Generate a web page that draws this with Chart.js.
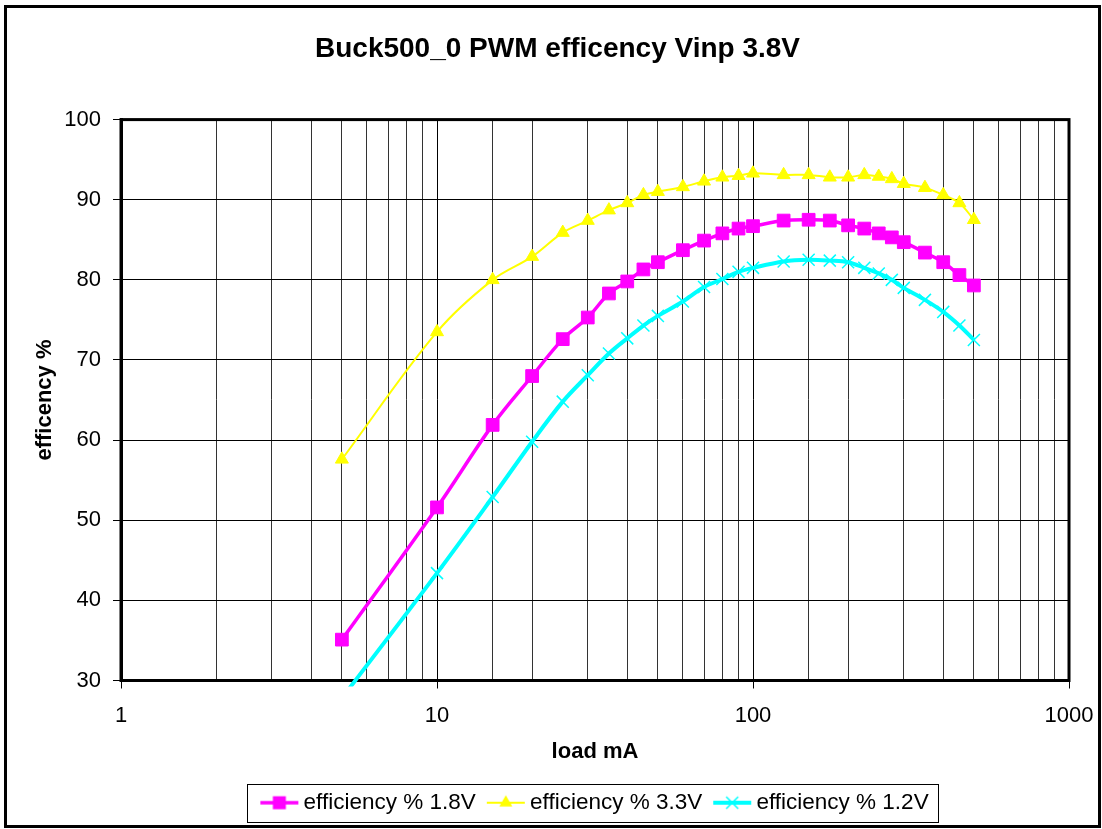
<!DOCTYPE html>
<html>
<head>
<meta charset="utf-8">
<script src="https://cdn.jsdelivr.net/npm/chart.js@4.4.1/dist/chart.umd.min.js"></script>
<style>
  html, body { margin: 0; padding: 0; background: #fff; }
  #wrap { position: relative; width: 1102px; height: 829px; }
</style>
</head>
<body>
<div id="wrap"><canvas id="chart"></canvas></div>
<script>
// load in mA
var loadMA = [5, 10, 15, 20, 25, 30, 35, 40, 45, 50, 60, 70, 80, 90, 100, 125, 150, 175, 200, 225, 250, 275, 300, 350, 400, 450, 500];

// efficiency % per output voltage
var eff18 = [35.1, 51.6, 61.9, 68.0, 72.6, 75.3, 78.3, 79.8, 81.3, 82.2, 83.7, 84.9, 85.8, 86.4, 86.7, 87.4, 87.5, 87.4, 86.8, 86.4, 85.8, 85.3, 84.7, 83.4, 82.2, 80.6, 79.3];
var eff33 = [57.6, 73.5, 80.0, 82.9, 85.9, 87.4, 88.7, 89.6, 90.6, 91.0, 91.6, 92.3, 92.8, 93.0, 93.3, 93.1, 93.1, 92.8, 92.8, 93.1, 92.9, 92.6, 92.0, 91.5, 90.6, 89.6, 87.5];
var eff12 = [27.8, 43.4, 52.9, 59.8, 64.8, 68.1, 70.8, 72.7, 74.3, 75.5, 77.3, 79.1, 80.1, 81.0, 81.5, 82.3, 82.5, 82.4, 82.2, 81.5, 80.8, 80.0, 79.0, 77.5, 76.0, 74.3, 72.5];

var seriesNames = ['efficiency % 1.8V', 'efficiency % 3.3V', 'efficiency % 1.2V'];
var xTickLabels = [1, 10, 100, 1000];
var yTicks = [30, 40, 50, 60, 70, 80, 90, 100];

var FONT = '"Liberation Sans", Arial, sans-serif';

function points(ys) {
    var out = [];
    for (var i = 0; i < loadMA.length; i++) {
        out.push({x: loadMA[i], y: ys[i]});
    }
    return out;
}

function isDecade(v) {
    return xTickLabels.indexOf(v) !== -1;
}

// legend icons: a short line with the marker on it
function makeIcon(color, lineW, kind) {
    var c = document.createElement('canvas');
    c.width = 45;
    c.height = 20;
    var g = c.getContext('2d');
    g.strokeStyle = color;
    g.fillStyle = color;
    g.lineWidth = lineW;
    g.beginPath();
    g.moveTo(6, 10);
    g.lineTo(44, 10);
    g.stroke();
    var cx = 25, cy = 10;
    if (kind === 'rect') {
        g.fillRect(cx - 6.5, cy - 6.5, 13, 13);
    } else if (kind === 'triangle') {
        var r = 7.5;
        g.beginPath();
        g.moveTo(cx, cy - r);
        g.lineTo(cx + r * 0.866, cy + r / 2);
        g.lineTo(cx - r * 0.866, cy + r / 2);
        g.closePath();
        g.fill();
    } else {
        g.lineWidth = 1.5;
        g.beginPath();
        g.moveTo(cx - 6, cy - 6); g.lineTo(cx + 6, cy + 6);
        g.moveTo(cx + 6, cy - 6); g.lineTo(cx - 6, cy + 6);
        g.stroke();
    }
    return c;
}

var icons = [
    makeIcon('#FF00FF', 3.5, 'rect'),
    makeIcon('#FFFF00', 2, 'triangle'),
    makeIcon('#00FFFF', 4, 'cross')
];

var framePlugin = {
    id: 'frame',
    afterLayout: function(chart) {
        // centre the legend under the plot area, nudge the title like the original
        var lg = chart.legend;
        var ca = chart.chartArea;
        var shift = (ca.left + ca.right) / 2 - (lg.left + lg.right) / 2;
        lg.left += shift;
        lg.right += shift;
        var tb = chart.titleBlock;
        if (tb) {
            tb.left += 18;
            tb.right += 18;
        }
    },
    beforeDraw: function(chart) {
        var ctx = chart.ctx;
        ctx.save();
        ctx.fillStyle = '#fff';
        ctx.fillRect(0, 0, chart.width, chart.height);
        ctx.strokeStyle = '#000';
        ctx.lineWidth = 3;
        ctx.strokeRect(5.5, 6.5, 1094, 820);
        ctx.restore();
    },
    beforeDatasetsDraw: function(chart) {
        var ca = chart.chartArea;
        var ctx = chart.ctx;
        ctx.save();
        ctx.strokeStyle = '#000';
        ctx.lineWidth = 3;
        ctx.strokeRect(ca.left, ca.top, ca.right - ca.left, ca.bottom - ca.top);
        ctx.restore();
    },
    afterDraw: function(chart) {
        var lg = chart.legend;
        var pad = lg.options.labels.padding;
        var lw = lg.lineWidths[0];
        var startX = (lg.left + pad + lg.right - lw) / 2;
        var x0 = startX + 15.5 - 22.5 - 7;
        var x1 = startX + lw - pad + 10;
        var cy = lg.top + pad + 11;
        var ctx = chart.ctx;
        ctx.save();
        ctx.strokeStyle = '#000';
        ctx.lineWidth = 1;
        ctx.strokeRect(Math.round(x0) + 0.5, Math.round(cy - 19) + 0.5, Math.round(x1 - x0), 38);
        ctx.restore();
    }
};

new Chart(document.getElementById('chart'), {
    type: 'line',
    data: {
        datasets: [
            {
                label: seriesNames[0],
                data: points(eff18),
                borderColor: '#FF00FF',
                backgroundColor: '#FF00FF',
                borderWidth: 3.5,
                pointStyle: 'rect',
                pointRadius: 9,
                pointBorderWidth: 1,
                pointBorderColor: '#FF00FF',
                pointBackgroundColor: '#FF00FF',
                tension: 0.35,
                clip: 6
            },
            {
                label: seriesNames[1],
                data: points(eff33),
                borderColor: '#FFFF00',
                backgroundColor: '#FFFF00',
                borderWidth: 2,
                pointStyle: 'triangle',
                pointRadius: 7.5,
                pointBorderWidth: 1,
                pointBorderColor: '#FFFF00',
                pointBackgroundColor: '#FFFF00',
                tension: 0.35,
                clip: 6
            },
            {
                label: seriesNames[2],
                data: points(eff12),
                borderColor: '#00FFFF',
                backgroundColor: '#00FFFF',
                borderWidth: 4,
                pointStyle: 'crossRot',
                pointRadius: 8.5,
                pointBorderWidth: 1.5,
                pointBorderColor: '#00FFFF',
                tension: 0.35,
                clip: 6
            }
        ]
    },
    options: {
        responsive: true,
        maintainAspectRatio: false,
        animation: false,
        devicePixelRatio: 1,
        layout: {
            padding: {left: 10, right: 33, top: 0, bottom: 5}
        },
        plugins: {
            title: {
                display: true,
                text: 'Buck500_0 PWM efficency Vinp 3.8V',
                color: '#000',
                font: {family: FONT, size: 28, weight: 'bold'},
                padding: {top: 32, bottom: 54}
            },
            legend: {
                position: 'bottom',
                labels: {
                    color: '#000',
                    font: {family: FONT, size: 22.5},
                    usePointStyle: true,
                    pointStyleWidth: 31,
                    padding: 12,
                    generateLabels: function(chart) {
                        var items = Chart.defaults.plugins.legend.labels.generateLabels(chart);
                        items.forEach(function(it, i) { it.pointStyle = icons[i]; });
                        return items;
                    }
                }
            },
            tooltip: {enabled: false}
        },
        scales: {
            x: {
                type: 'logarithmic',
                min: 1,
                max: 1000,
                afterFit: function(scale) {
                    scale.height = 99;
                    scale.paddingRight = 20;
                },
                title: {
                    display: true,
                    text: 'load mA',
                    color: '#000',
                    font: {family: FONT, size: 22, weight: 'bold'},
                    padding: {top: 0, bottom: 14}
                },
                ticks: {
                    color: '#000',
                    font: {family: FONT, size: 22},
                    autoSkip: false,
                    maxRotation: 0,
                    padding: 14,
                    callback: function(v) { return isDecade(v) ? String(v) : ''; }
                },
                grid: {
                    color: function(c) { return c.tick && isDecade(c.tick.value) ? '#000' : '#333'; },
                    lineWidth: 1,
                    tickLength: 8,
                    tickColor: function(c) { return c.tick && isDecade(c.tick.value) ? '#000' : 'rgba(0,0,0,0)'; }
                },
                border: {display: true, color: '#000', width: 3}
            },
            y: {
                type: 'linear',
                min: yTicks[0],
                max: yTicks[yTicks.length - 1],
                afterFit: function(scale) { scale.width = 111; },
                title: {
                    display: true,
                    text: 'efficency %',
                    color: '#000',
                    font: {family: FONT, size: 22, weight: 'bold'},
                    padding: {top: 22, bottom: 0}
                },
                ticks: {
                    stepSize: 10,
                    color: '#000',
                    font: {family: FONT, size: 22},
                    padding: 12
                },
                grid: {
                    color: '#000',
                    lineWidth: 1,
                    tickLength: 8,
                    tickColor: '#000'
                },
                border: {display: true, color: '#000', width: 3}
            }
        }
    },
    plugins: [framePlugin]
});
</script>
</body>
</html>
